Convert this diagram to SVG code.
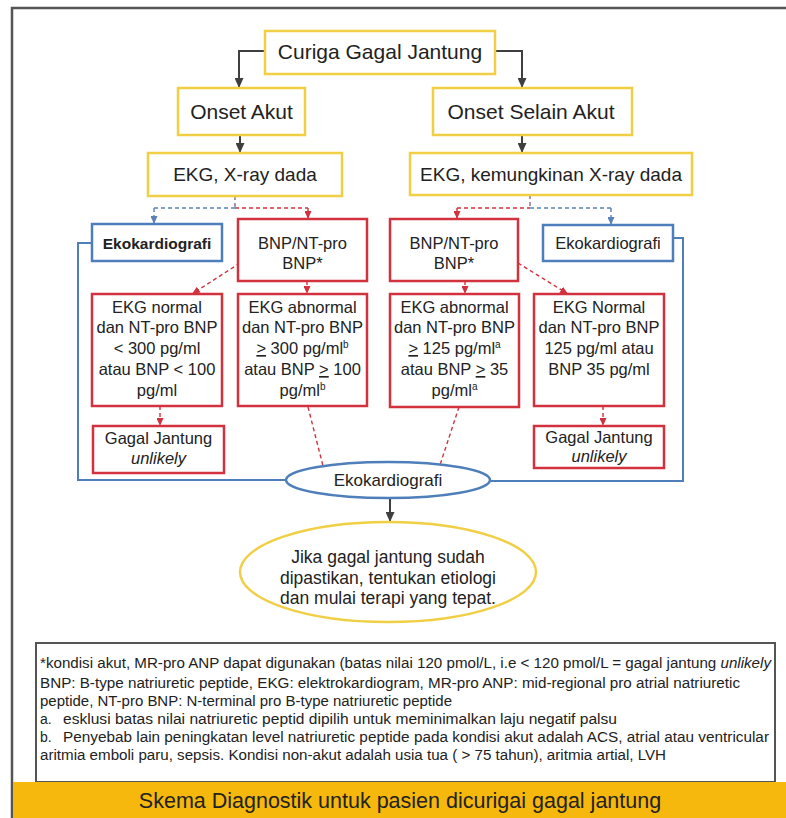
<svg xmlns="http://www.w3.org/2000/svg" width="786" height="818" viewBox="0 0 786 818">
<defs>
<marker id="arD" markerUnits="userSpaceOnUse" markerWidth="10" markerHeight="9" refX="10" refY="4.5" orient="auto"><path d="M0,0 L10,4.5 L0,9 z" fill="#3f3f3f"/></marker>
<marker id="arR" markerUnits="userSpaceOnUse" markerWidth="8" markerHeight="7" refX="8" refY="3.5" orient="auto"><path d="M0,0 L8,3.5 L0,7 z" fill="#d2323e"/></marker>
<marker id="arB" markerUnits="userSpaceOnUse" markerWidth="8" markerHeight="7" refX="8" refY="3.5" orient="auto"><path d="M0,0 L8,3.5 L0,7 z" fill="#5a82b8"/></marker>
</defs>
<style>
text{font-family:"Liberation Sans",Arial,sans-serif;fill:#222}
.y{fill:#fff;stroke:#f0cf45;stroke-width:2.5}
.r{fill:#fff;stroke:#d2323e;stroke-width:2.5}
.b{fill:#fff;stroke:#4f7fba;stroke-width:2.5}
.t21{font-size:21px;text-anchor:middle}
.t19{font-size:19px;text-anchor:middle}
.t16{font-size:16.5px;text-anchor:middle}
.fn{font-size:14px}
.sd{fill:none;stroke:#3f3f3f;stroke-width:2}
.dr{fill:none;stroke:#d2323e;stroke-width:1.4;stroke-dasharray:4 3}
.db{fill:none;stroke:#5a82b8;stroke-width:1.4;stroke-dasharray:4 3}
.dg{fill:none;stroke:#8a6c80;stroke-width:1.4;stroke-dasharray:4 3}
.bl{fill:none;stroke:#4f7fba;stroke-width:2}
.sup{font-size:10px}
</style>
<rect x="12" y="8" width="790" height="820" fill="#fff" stroke="#555" stroke-width="2.5"/>

<g id="connectors">
<polyline class="sd" points="265,51 239,51 239,88" marker-end="url(#arD)"/>
<polyline class="sd" points="495,51 522,51 522,88" marker-end="url(#arD)"/>
<line class="sd" x1="240" y1="135" x2="240" y2="153" marker-end="url(#arD)"/>
<line class="sd" x1="522" y1="135" x2="522" y2="153" marker-end="url(#arD)"/>
<line class="dg" x1="235" y1="196" x2="235" y2="208"/>
<line class="db" x1="154" y1="208" x2="235" y2="208"/>
<line class="dr" x1="235" y1="208" x2="308" y2="208"/>
<line class="db" x1="154" y1="208" x2="154" y2="224" marker-end="url(#arB)"/>
<line class="dr" x1="308" y1="208" x2="308" y2="219" marker-end="url(#arR)"/>
<line class="dg" x1="530" y1="195" x2="530" y2="208"/>
<line class="dr" x1="457" y1="208" x2="530" y2="208"/>
<line class="db" x1="530" y1="208" x2="611" y2="208"/>
<line class="dr" x1="457" y1="208" x2="457" y2="219" marker-end="url(#arR)"/>
<line class="db" x1="611" y1="208" x2="611" y2="225" marker-end="url(#arB)"/>
<line class="dr" x1="240" y1="263" x2="192" y2="294" marker-end="url(#arR)"/>
<line class="dr" x1="307" y1="281" x2="307" y2="294" marker-end="url(#arR)"/>
<line class="dr" x1="160" y1="406" x2="160" y2="426" marker-end="url(#arR)"/>
<line class="dr" x1="308" y1="407" x2="323" y2="466"/>
<line class="dr" x1="518" y1="263" x2="568" y2="294" marker-end="url(#arR)"/>
<line class="dr" x1="465" y1="281" x2="465" y2="294" marker-end="url(#arR)"/>
<line class="dr" x1="459" y1="407" x2="440" y2="465"/>
<line class="dr" x1="603" y1="406" x2="603" y2="426" marker-end="url(#arR)"/>
<polyline class="bl" points="92,243 78,243 78,480 286,480"/>
<polyline class="bl" points="673,238 683,238 683,481 490,481"/>
<line class="sd" x1="390" y1="498" x2="390" y2="522" marker-end="url(#arD)"/>
</g>

<g id="curiga"><rect class="y" x="265" y="31" width="230" height="43"/><text class="t21" x="380" y="59">Curiga Gagal Jantung</text></g>
<g id="onset-akut"><rect class="y" x="178" y="88" width="127" height="47"/><text class="t21" x="241.5" y="119">Onset Akut</text></g>
<g id="onset-selain"><rect class="y" x="433" y="88" width="199" height="47"/><text class="t21" x="531" y="119">Onset Selain Akut</text></g>
<g id="ekg-xray"><rect class="y" x="148" y="153" width="194" height="43"/><text class="t19" x="245" y="181">EKG, X-ray dada</text></g>
<g id="ekg-kemungkinan"><rect class="y" x="410" y="153" width="282" height="42"/><text class="t19" x="551" y="181">EKG, kemungkinan X-ray dada</text></g>

<g id="eko-left"><rect class="b" x="92" y="224" width="130" height="37"/><text x="157" y="249" font-size="15.5" font-weight="bold" text-anchor="middle">Ekokardiografi</text></g>
<g id="bnp-left"><rect class="r" x="238" y="219" width="129" height="62"/><text class="t16" x="302.5" y="249">BNP/NT-pro</text><text class="t16" x="302.5" y="269">BNP*</text></g>
<g id="bnp-right"><rect class="r" x="390" y="219" width="128" height="62"/><text class="t16" x="454" y="249">BNP/NT-pro</text><text class="t16" x="454" y="269">BNP*</text></g>
<g id="eko-right"><rect class="b" x="543" y="225" width="130" height="36"/><text class="t16" x="608" y="249">Ekokardiografi</text></g>

<g id="ekg-normal-left"><rect class="r" x="92" y="294" width="130" height="112"/>
<text class="t16" x="157" y="313">EKG normal</text>
<text class="t16" x="157" y="333">dan NT-pro BNP</text>
<text class="t16" x="157" y="354">&lt; 300 pg/ml</text>
<text class="t16" x="157" y="375">atau BNP &lt; 100</text>
<text class="t16" x="157" y="396">pg/ml</text></g>

<g id="ekg-abnormal-left"><rect class="r" x="238" y="294" width="129" height="112"/>
<text class="t16" x="302.5" y="313">EKG abnormal</text>
<text class="t16" x="302.5" y="333">dan NT-pro BNP</text>
<text class="t16" x="302.5" y="354"><tspan text-decoration="underline">&gt;</tspan> 300 pg/ml<tspan class="sup" dy="-6">b</tspan></text>
<text class="t16" x="302.5" y="375">atau BNP <tspan text-decoration="underline">&gt;</tspan> 100</text>
<text class="t16" x="302.5" y="396">pg/ml<tspan class="sup" dy="-6">b</tspan></text></g>

<g id="ekg-abnormal-right"><rect class="r" x="390" y="294" width="129" height="113"/>
<text class="t16" x="454.5" y="313">EKG abnormal</text>
<text class="t16" x="454.5" y="333">dan NT-pro BNP</text>
<text class="t16" x="454.5" y="354"><tspan text-decoration="underline">&gt;</tspan> 125 pg/ml<tspan class="sup" dy="-6">a</tspan></text>
<text class="t16" x="454.5" y="375">atau BNP <tspan text-decoration="underline">&gt;</tspan> 35</text>
<text class="t16" x="454.5" y="396">pg/ml<tspan class="sup" dy="-6">a</tspan></text></g>

<g id="ekg-normal-right"><rect class="r" x="534" y="294" width="130" height="112"/>
<text class="t16" x="599" y="313">EKG Normal</text>
<text class="t16" x="599" y="333">dan NT-pro BNP</text>
<text class="t16" x="599" y="354">125 pg/ml atau</text>
<text class="t16" x="599" y="375">BNP 35 pg/ml</text></g>

<g id="gagal-left"><rect class="r" x="93" y="426" width="131" height="47"/>
<text class="t16" x="158.5" y="444">Gagal Jantung</text>
<text class="t16" x="158.5" y="464" font-style="italic">unlikely</text></g>

<g id="gagal-right"><rect class="r" x="534" y="426" width="130" height="42"/>
<text class="t16" x="599" y="443">Gagal Jantung</text>
<text class="t16" x="599" y="462" font-style="italic">unlikely</text></g>

<g id="eko-ellipse"><ellipse class="b" cx="388" cy="480" rx="102" ry="18"/><text x="388" y="486" font-size="17" text-anchor="middle">Ekokardiografi</text></g>

<g id="result"><ellipse class="y" cx="388" cy="572" rx="148" ry="50"/>
<text x="388" y="563" font-size="17.5" text-anchor="middle">Jika gagal jantung sudah</text>
<text x="388" y="584" font-size="17.5" text-anchor="middle">dipastikan, tentukan etiologi</text>
<text x="388" y="604" font-size="17.5" text-anchor="middle">dan mulai terapi yang tepat.</text></g>

<g id="footnote">
<rect x="36" y="643" width="739" height="139" fill="#fff" stroke="#555" stroke-width="2"/>
<text class="fn" x="40" y="668" textLength="731" lengthAdjust="spacingAndGlyphs">*kondisi akut, MR-pro ANP dapat digunakan (batas nilai 120 pmol/L, i.e &lt; 120 pmol/L = gagal jantung <tspan font-style="italic">unlikely</tspan></text>
<text class="fn" x="40" y="688" textLength="700" lengthAdjust="spacingAndGlyphs">BNP: B-type natriuretic peptide, EKG: elektrokardiogram, MR-pro ANP: mid-regional pro atrial natriuretic</text>
<text class="fn" x="40" y="706" textLength="412" lengthAdjust="spacingAndGlyphs">peptide, NT-pro BNP: N-terminal pro B-type natriuretic peptide</text>
<text class="fn" x="40" y="724">a.</text>
<text class="fn" x="63" y="724" textLength="554" lengthAdjust="spacingAndGlyphs">esklusi batas nilai natriuretic peptid dipilih untuk meminimalkan laju negatif palsu</text>
<text class="fn" x="40" y="742">b.</text>
<text class="fn" x="63" y="742" textLength="706" lengthAdjust="spacingAndGlyphs">Penyebab lain peningkatan level natriuretic peptide pada kondisi akut adalah ACS, atrial atau ventricular</text>
<text class="fn" x="40" y="760" textLength="626" lengthAdjust="spacingAndGlyphs">aritmia emboli paru, sepsis. Kondisi non-akut adalah usia tua ( &gt; 75 tahun), aritmia artial, LVH</text>
</g>

<g id="banner">
<rect x="13" y="782" width="773" height="36" fill="#f6b80c"/>
<text x="400" y="808" font-size="21.5" text-anchor="middle" fill="#1e1a10">Skema Diagnostik untuk pasien dicurigai gagal jantung</text>
</g>
</svg>
